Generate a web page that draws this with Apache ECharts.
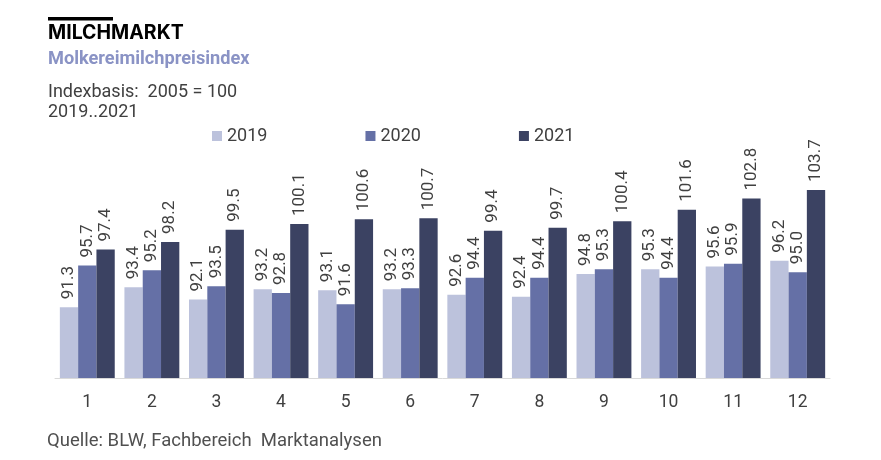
<!DOCTYPE html>
<html><head><meta charset="utf-8">
<script src="https://cdn.jsdelivr.net/npm/echarts@6/dist/echarts.min.js"></script>
<style>html,body{margin:0;padding:0;background:#fff}#c{width:881px;height:460px}</style>
</head><body><div id="c"></div>
<script>
const months = ['1','2','3','4','5','6','7','8','9','10','11','12'];
const s2019 = [91.3, 93.4, 92.1, 93.2, 93.1, 93.2, 92.6, 92.4, 94.8, 95.3, 95.6, 96.2];
const s2020 = [95.7, 95.2, 93.5, 92.8, 91.6, 93.3, 94.4, 94.4, 95.3, 94.4, 95.9, 95.0];
const s2021 = [97.4, 98.2, 99.5, 100.1, 100.6, 100.7, 99.4, 99.7, 100.4, 101.6, 102.8, 103.7];
const seriesNames = ['2019', '2020', '2021'];
const colors = ['#bcc2dc', '#6570a6', '#3b4262'];
const font = 'Roboto, "Liberation Sans", sans-serif';
const chart = echarts.init(document.getElementById('c'), null, {renderer: 'canvas'});
const label = {show: true, position: 'top', rotate: 90, align: 'left', verticalAlign: 'middle', distance: 8,
  color: '#404040', fontSize: 17, fontFamily: font, formatter: p => p.value.toFixed(1)};
const txt = (x, y, text, size, extra) => ({type: 'text', x, y,
  style: Object.assign({text, fontSize: size, fill: '#404040', fontFamily: font, textVerticalAlign: 'middle'}, extra || {})});
chart.setOption({
  animation: false,
  color: colors,
  graphic: [
    {type: 'rect', left: 48, top: 17, shape: {width: 65, height: 3.5}, style: {fill: '#000'}},
    txt(48, 33, 'MILCHMARKT', 19.5, {fontWeight: 'bold', fill: '#000', fontFamily: 'Inter, ' + font}),
    txt(48, 59, 'Molkereimilchpreisindex', 18.2, {fontWeight: 'bold', fill: '#8a93c5'}),
    txt(48, 92, 'Indexbasis:  2005 = 100', 18),
    txt(48, 112, '2019..2021', 18),
    txt(47, 441, 'Quelle: BLW, Fachbereich  Marktanalysen', 18.5, {fill: '#505050'})
  ],
  legend: {
    top: 122, left: 207, itemGap: 98, itemWidth: 10, itemHeight: 10, icon: 'rect',
    textStyle: {fontSize: 18, color: '#404040', fontFamily: font},
    data: seriesNames
  },
  grid: {left: 55, right: 51, top: 173, bottom: 82, containLabel: false},
  xAxis: {
    type: 'category', data: months,
    axisLine: {lineStyle: {color: '#d9d9d9', width: 1}},
    axisTick: {show: false},
    axisLabel: {color: '#404040', fontSize: 17.5, fontFamily: font, margin: 16}
  },
  yAxis: {type: 'value', min: 83.8, max: 105.5, show: false, splitLine: {show: false}},
  series: [
    {name: seriesNames[0], type: 'bar', data: s2019, barGap: '0%', barCategoryGap: '15%', label},
    {name: seriesNames[1], type: 'bar', data: s2020, barGap: '0%', barCategoryGap: '15%', label},
    {name: seriesNames[2], type: 'bar', data: s2021, barGap: '0%', barCategoryGap: '15%', label}
  ]
});
</script></body></html>
